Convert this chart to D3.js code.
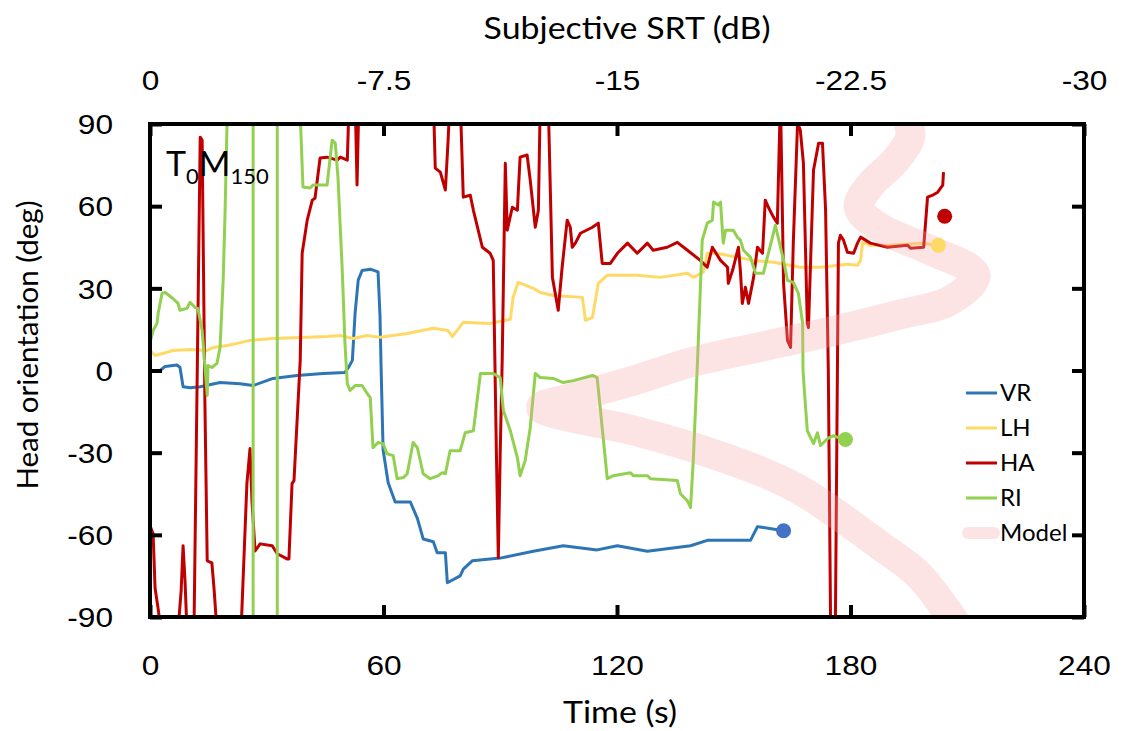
<!DOCTYPE html>
<html>
<head>
<meta charset="utf-8">
<script src="https://cdn.jsdelivr.net/npm/d3@7"></script>
<style>
  html, body { margin: 0; padding: 0; background: #fff; }
  svg { display: block; font-family: Lato, "Open Sans", sans-serif; }
</style>
</head>
<body>
<svg id="chart" width="1126" height="731"></svg>
<script>
// Axis ticks
const timeTicks = [0, 60, 120, 180, 240];
const srtTicks = [0, -7.5, -15, -22.5, -30];
const degTicks = [-90, -60, -30, 0, 30, 60, 90];

// Head orientation traces: [time (s), orientation (deg)]
const VR = [[0,0],[2.6,0],[3.9,1.5],[6.9,2],[7.7,1.2],[8.5,-5.9],[10.3,-6.3],[12.9,-5.9],[18,-4.4],[23.1,-4.8],[26.5,-5.5],
  [31.6,-2.9],[37.8,-1.8],[44.5,-1.1],[50.1,-0.7],[51,1.1],[52,3.7],[52.7,20.9],[53.5,33],[54.5,36.5],[56.6,37],[58.6,36],
  [59.1,20],[59.4,0],[59.9,-29],[61.2,-41],[63,-48],[66.9,-48],[68.7,-54],[70.2,-61.5],[72.8,-62.5],[73.8,-66.5],[75.9,-66.5],
  [76.4,-77.5],[79.7,-75],[80.5,-72.5],[82.8,-69.5],[90,-68.5],[98.5,-66],[106.2,-64],[114.9,-65.5],[120.1,-64],[127.8,-66],
  [138.9,-64],[143.2,-62],[154.3,-62],[156.1,-57],[162.8,-58.5]];

const LH = [[0,7.3],[1.3,5.5],[3.3,6.2],[5.9,7.3],[10.3,7.7],[14.7,7.3],[16.2,8.4],[19.8,9.1],[22.4,9.9],[25.7,11],[31.6,11.7],
  [40.4,12.1],[45.5,12.4],[48.9,12.8],[52.2,11.7],[55.8,12.8],[59.1,12.1],[66.1,13.5],[72.8,15.4],[76.6,14.6],[77.7,12.4],
  [80.5,17.6],[87.4,17.2],[92.6,18.7],[93.3,26.7],[94.6,32.2],[98.5,30],[100.3,28.5],[103.6,27.4],[111.1,26.7],[111.9,18.3],
  [113.7,19.4],[115.2,31.8],[117.5,34.8],[125.2,34.8],[131.1,34],[138.1,35.5],[139.6,34],[142.2,35.9],[143.2,42.8],[145.8,42.8],
  [150.9,41.3],[155.1,40.2],[160.2,39.5],[167.1,37.7],[172.3,37.7],[179.2,38.8],[181.8,38.4],[182.6,40.2],[183.1,46.8],
  [185.1,45.7],[189.5,45.7],[198,46.5],[202.6,45.7]];

const HA = [[0,-56.7],[0.8,-59.6],[1.3,-79.4],[2.1,-87.1],[2.8,-95],[7.2,-95],[8,-80.5],[8.5,-64],[9,-76.8],[9.5,-95],[11.3,-95],
  [12.9,85.2],[13.4,84.1],[14.1,-11],[14.7,-69.5],[15.9,-70.2],[16.5,-80.5],[17.2,-95],[23.4,-95],[24.9,-41.3],[25.7,-28.5],
  [26.2,-47.6],[27,-65.9],[28.3,-63.3],[31.4,-64],[32.7,-66.9],[35.2,-68.8],[35.7,-68.8],[36.5,-41.3],[37,-40.2],[38.6,3.7],
  [39.1,42.8],[40.4,54.9],[41.7,62.2],[42.4,62.9],[43.7,77.6],[45.5,77.9],[48.1,76.8],[48.9,77.9],[50.7,76.8],[51.2,100],
  [52.7,100],[53.2,67.7],[53.7,100],[72.8,100],[73.3,73.9],[74.6,72.4],[75.9,65.9],[76.6,84],[77.1,100],[79.7,100],[80.5,63.3],
  [82.3,64],[83.1,58.5],[85.4,45],[87.4,42.8],[88.2,40.2],[89,-29.3],[89.5,-68.4],[90,-29.3],[90.5,3.7],[91.3,75.7],[91.8,51.2],
  [93.1,59.6],[94.4,58.5],[95.1,77.9],[96.9,78.7],[97.7,69.5],[99,52.3],[99.8,58.5],[100.3,100],[102.3,100],[103.4,34],
  [104.9,22],[105.9,37.7],[107.2,54.9],[108,52.3],[108.5,45],[109.3,46.5],[110.6,50.1],[113.7,52.3],[115.2,53.8],[116.2,39.1],
  [118.3,39.1],[120.1,42.8],[122.7,46.5],[125.2,42.8],[127.8,46.5],[129.3,43.9],[132.9,45],[135.5,46.8],[138.1,43.9],
  [141.4,40.2],[143.2,37.7],[144.5,45],[146.6,40.2],[148.4,37.7],[148.6,31.8],[149.7,36.6],[151.2,45],[151.7,36.6],[152.2,24.5],
  [153,30.4],[153.8,24.5],[155.1,34],[156.1,45],[157.4,42.8],[158.1,62.2],[158.9,59.6],[160.2,56],[161.2,53.8],[162,100],
  [162.8,31.8],[163.8,11],[164.6,8.4],[165.3,46.5],[166.4,90.4],[167.1,87.8],[167.9,75.7],[168.9,17.2],[169.2,15.7],[170.5,73.2],
  [171.8,83],[172.8,83],[173.6,58.5],[174.3,0],[174.9,-95],[176.1,-95],[176.9,46.5],[177.4,49.4],[178.2,47.6],[179.2,43.2],
  [180.8,42.8],[181.8,46.5],[182.6,48.7],[185.1,46.5],[189.5,45],[194.7,45.7],[195.4,44.6],[198.8,45],[199.8,63.3],[201.1,64],
  [202.4,65.1],[203.7,67.7],[203.9,72.4]];

const RI = [[0,10.2],[0.8,14.6],[1.8,17.2],[2.1,20.9],[3.1,28.2],[3.9,28.5],[5.9,26.3],[7.2,24.5],[7.7,22],[9.5,22.7],[10.3,24.9],
  [11.6,23],[12.3,22.7],[13.4,14.6],[14.7,-9.1],[14.9,1.8],[15.9,1.1],[17.2,2.6],[18,8.4],[18.8,32.9],[19.3,58.5],[19.8,90.4],
  [20,100],[26.5,100],[26.5,-100],[32.7,-100],[32.7,100],[38.4,100],[38.7,90],[39.3,67],[41.1,66.6],[41.9,67.7],[45.5,67.7],
  [46.8,84.1],[47.6,83],[48.3,70.6],[49.4,36.6],[50.1,9.9],[50.7,-4.8],[51.4,-7.3],[52.7,-5.5],[54.5,-5.5],[55.8,-8.4],
  [56.6,-9.9],[57.3,-28.2],[58.6,-26.3],[59.9,-26.7],[60.9,-30.4],[62.5,-31.1],[63.5,-39.5],[65.1,-39.1],[66.1,-37.7],
  [67.6,-26.3],[68.7,-28.2],[70.2,-37.7],[72,-39.5],[74.1,-38.4],[75.1,-37.3],[75.9,-37.7],[77.1,-29.3],[79.7,-29.3],
  [81,-22.7],[83.1,-22],[84.9,-1.1],[88.2,-1.1],[90,-2.6],[90.8,-14.6],[92.6,-22],[94.4,-31.8],[95.1,-38.4],[96.4,-32.9],
  [97.7,-20.9],[99,-1.1],[100.3,-2.6],[103.6,-2.9],[106.2,-4.4],[108.8,-3.7],[113.7,-1.8],[114.9,-2.6],[116.2,-20.9],
  [117.5,-39.5],[119.1,-38.4],[123.4,-37.3],[124.2,-38.4],[127.8,-38.4],[128.6,-39.5],[135.5,-40.2],[136.3,-45],[138.1,-47.6],
  [138.9,-50.1],[139.6,-32.9],[140.7,3.7],[141.9,47.6],[143.2,53.8],[144.5,54.9],[144.8,61.5],[146,60.4],[146.6,61.5],
  [147.3,46.5],[147.9,51.2],[149.9,51.2],[150.9,48.7],[151.7,47.6],[152.5,43.9],[154.3,41.3],[155.6,35.5],[157.6,35.5],
  [158.9,42.8],[160.7,53],[162.8,40.2],[163.8,32.9],[165.3,32.2],[166.6,28.2],[167.7,17.2],[167.8,0],[168.2,-8.4],[168.9,-22],
  [170.5,-26.7],[171.5,-22.7],[172.3,-27.4],[174.1,-24.9],[175.6,-23.8],[178.7,-25.6]];

// Model prediction path
const MODEL = [[192.9,97],[195.4,86],[191.6,76.8],[185.1,67.7],[182.1,59.6],[187.7,52],[200.6,43.9],[212.1,34.8],[205.7,25.6],
  [192.9,20.5],[177.4,15],[158.4,9.1],[138.9,2.9],[124.2,-3.7],[108,-10.2],[100.5,-13.5],[124.5,-22],[138.9,-27.8],
  [158.4,-37.7],[168.2,-44.6],[187.7,-64],[197.5,-74.6],[208.3,-95.1]];

// Final orientation of each condition
const endNames = ["VR", "LH", "HA", "RI"];
const endTime = [162.8, 202.6, 204.2, 178.7];
const endDeg = [-58.5, 45.7, 56.3, -25.2];

const seriesNames = ["VR", "LH", "HA", "RI"];
const seriesData = [VR, LH, HA, RI];
const lineColors = ["#2e75b6", "#ffd966", "#c00000", "#92d050"];
const dotColors = ["#4472c4", "#ffd966", "#c00000", "#92d050"];
const modelColor = "#f4a6a6";

const svg = d3.select("#chart");
const L = 150, R = 1084, T = 124, B = 617;
const WIDE = 1.13; // horizontal text widening

const x = d3.scaleLinear().domain([0, 240]).range([L, R]);
const xTop = d3.scaleLinear().domain([0, -30]).range([L, R]);
const y = d3.scaleLinear().domain([-90, 90]).range([B, T]);

svg.append("defs").append("clipPath").attr("id", "plotClip")
  .append("rect").attr("x", L).attr("y", T).attr("width", R - L).attr("height", B - T);

const line = d3.line().x(d => x(d[0])).y(d => y(d[1]));
const plot = svg.append("g").attr("clip-path", "url(#plotClip)");

seriesData.forEach((data, i) => {
  plot.append("path")
    .attr("d", line(data))
    .attr("fill", "none")
    .attr("stroke", lineColors[i])
    .attr("stroke-width", 3)
    .attr("stroke-linejoin", "round");
});

// Model band drawn translucent over the traces
plot.append("path")
  .attr("d", d3.line().x(d => x(d[0])).y(d => y(d[1])).curve(d3.curveCatmullRom.alpha(0.5))(MODEL))
  .attr("fill", "none")
  .attr("stroke", modelColor)
  .attr("stroke-opacity", 0.3)
  .attr("stroke-width", 30)
  .attr("stroke-linejoin", "round");

// End points
svg.append("g").selectAll("circle")
  .data(endNames.map((n, i) => ({ n, t: endTime[i], v: endDeg[i], c: dotColors[i] })))
  .join("circle")
  .attr("cx", d => x(d.t)).attr("cy", d => y(d.v)).attr("r", 7.5)
  .attr("fill", d => d.c);

// Frame
svg.append("rect")
  .attr("x", L).attr("y", T).attr("width", R - L).attr("height", B - T)
  .attr("fill", "none").attr("stroke", "#000").attr("stroke-width", 4);

const fmt = d => String(d);
function styleAxis(g) {
  g.select(".domain").remove();
  g.selectAll(".tick line").attr("stroke", "#000").attr("stroke-width", 4);
  g.selectAll(".tick text").attr("fill", "#000").style("font-size", "28px")
    .attr("transform", `scale(${WIDE},1)`);
}

svg.append("g").attr("transform", `translate(0,${B})`)
  .call(d3.axisBottom(x).tickValues(timeTicks).tickFormat(fmt).tickSize(-12))
  .call(styleAxis)
  .call(g => g.selectAll(".tick text").attr("y", 48).attr("dy", "0.35em"));

svg.append("g").attr("transform", `translate(0,${T})`)
  .call(d3.axisTop(xTop).tickValues(srtTicks).tickFormat(fmt).tickSize(-12))
  .call(styleAxis)
  .call(g => g.selectAll(".tick text").attr("y", -44).attr("dy", "0.35em"));

svg.append("g").attr("transform", `translate(${L},0)`)
  .call(d3.axisLeft(y).tickValues(degTicks).tickFormat(fmt).tickSize(-12))
  .call(styleAxis)
  .call(g => g.selectAll(".tick text").attr("x", -37 / WIDE).attr("dy", "0.35em"));

svg.append("g").attr("transform", `translate(${R},0)`)
  .call(d3.axisRight(y).tickValues(degTicks).tickFormat("").tickSize(-12))
  .call(styleAxis);

// Axis titles
svg.append("text").attr("transform", `translate(620,712) scale(${WIDE},1)`).attr("dy", "0.35em")
  .attr("text-anchor", "middle").style("font-size", "30px").text("Time (s)");
svg.append("text").attr("transform", `translate(627,28) scale(${WIDE},1)`).attr("dy", "0.35em")
  .attr("text-anchor", "middle").style("font-size", "30px").text("Subjective SRT (dB)");
svg.append("text").attr("transform", "translate(28,345) rotate(-90)").attr("dy", "0.35em")
  .attr("text-anchor", "middle").style("font-size", "29.5px").text("Head orientation (deg)");

// Condition label
const lab = svg.append("text").attr("x", 166).attr("y", 176).style("font-size", "34px");
lab.append("tspan").text("T");
lab.append("tspan").attr("dy", 8).style("font-size", "22px").text("0");
lab.append("tspan").attr("dy", -8).text("M");
lab.append("tspan").attr("dy", 8).style("font-size", "22px").text("150");

// Legend
const legendNames = ["VR", "LH", "HA", "RI", "Model"];
const legend = svg.append("g");
legendNames.forEach((name, i) => {
  const ly = 393 + i * 35;
  if (name === "Model") {
    legend.append("line").attr("x1", 968).attr("x2", 994).attr("y1", ly).attr("y2", ly)
      .attr("stroke", modelColor).attr("stroke-opacity", 0.3)
      .attr("stroke-width", 12).attr("stroke-linecap", "round");
  } else {
    legend.append("line").attr("x1", 966).attr("x2", 997).attr("y1", ly).attr("y2", ly)
      .attr("stroke", lineColors[i]).attr("stroke-width", 3);
  }
  legend.append("text").attr("x", 1000).attr("y", ly).attr("dy", "0.35em")
    .style("font-size", "24px").text(name);
});
</script>
</body>
</html>
